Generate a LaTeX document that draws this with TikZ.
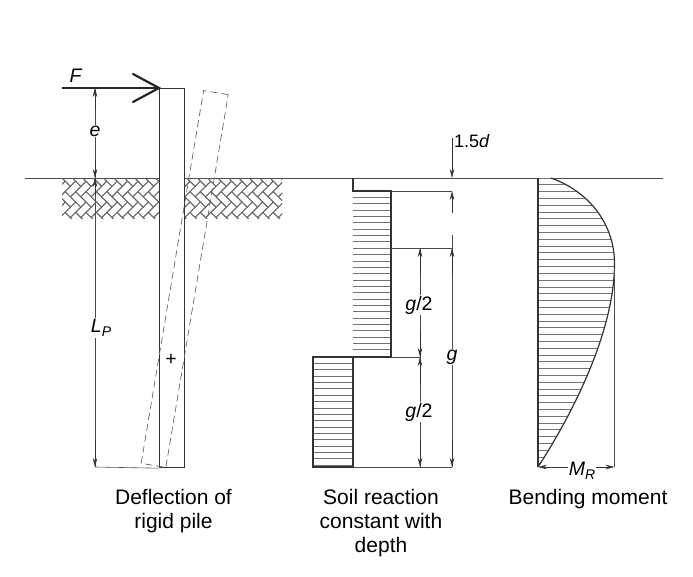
\documentclass[tikz,border=0pt]{standalone}
\usepackage{fontspec}
\setmainfont{Liberation Sans}
\usetikzlibrary{arrows.meta}
\begin{document}
\begin{tikzpicture}[x=1pt,y=-1pt,
  outl/.style={draw=black!80, line width=1.2pt},
  thin/.style={draw=black!70, line width=0.6pt},
  hatch/.style={draw=black!55, line width=0.6pt},
  bricks/.style={draw=black!60, line width=0.8pt},
  dimtip/.style={-{Stealth[length=9pt,width=4.5pt]}, draw=black!80, line width=0.6pt},
  lbl/.style={font=\fontsize{19.5}{23}\selectfont, inner sep=1pt},
  caption/.style={font=\fontsize{21}{24}\selectfont, align=center, inner sep=0pt}]
\useasboundingbox (0,0) rectangle (693,577);
\fill[white] (0,0) rectangle (693,577);

% ground line
\coordinate (gl) at (25,178);
\coordinate (gr) at (663,178);
\draw[thin] (gl) -- (gr);

% soil hatching (herringbone)
\begin{scope}
  \clip (62,178.5) rectangle (282,219);
  \begin{scope}[shift={(60,176)}, x={(5.2pt,-5.2pt)}, y={(5.2pt,5.2pt)}]
    \foreach \m in {0,...,3}{
      \foreach \k in {-9,...,22}{
        \pgfmathsetmacro{\xo}{\k+4*\m}
        \draw[bricks] (\xo,\k) -- ++(2,0) -- ++(0,1) -- ++(-2,0) -- cycle;
        \draw[bricks] (\xo,\k+1) -- ++(1,0) -- ++(0,2) -- ++(-1,0) -- cycle;
      }
    }
  \end{scope}
\end{scope}

% pile
\node[outl, fill=white, minimum width=25pt, minimum height=379pt, inner sep=0pt, anchor=north west] (pile) at (159,88) {};
% deflected pile (dashed)
\node[draw=black!60, dashed, dash pattern=on 7pt off 4pt, line width=0.7pt, minimum width=25pt, minimum height=378pt, inner sep=0pt, rotate=-9.5] (dpile) at (184.7,279) {};
\node[lbl] (plus) at (171,360) {+};

% force F
\coordinate (Fs) at (62,88);
\draw[black!85, line width=2.2pt] (Fs) -- (pile.north west);
\draw[black!85, line width=2.2pt, line cap=round, line join=miter] (133,74) -- (pile.north west) -- (133,102);
\node[lbl] (F) at (76,76) {\textit{F}};

% e and L_P dimensions
\coordinate (et) at (95,88);
\coordinate (eb) at (95,178);
\coordinate (lb) at (95,467);
\draw[thin] (et) -- (lb);
\draw[thin] (lb) -- (pile.south west);
\draw[dimtip] (95,110) -- (et);
\draw[dimtip] (95,160) -- (eb);
\draw[dimtip] (95,196) -- (eb);
\draw[dimtip] (95,440) -- (lb);
\node[lbl, fill=white] (e) at (95,131) {\textit{e}};
\node[lbl, fill=white] (LP) at (101,328) {\textit{L}\raisebox{-0.35ex}{\fontsize{14}{14}\selectfont\textit{P}}};

% soil reaction diagram
\begin{scope}
  \clip (353,191) rectangle (391,357);
  \foreach \y in {191,197.35,...,360} \draw[hatch] (353,\y) -- (391,\y);
\end{scope}
\begin{scope}
  \clip (313,357) rectangle (353,467);
  \foreach \y in {357,363.35,...,470} \draw[hatch] (313,\y) -- (353,\y);
\end{scope}
\draw[outl] (353,178) -- (353,191) -- (391,191) -- (391,357) -- (353,357);
\draw[outl] (353,357) -- (313,357) -- (313,467) -- (353,467) -- (353,357);
\coordinate (r1) at (452,191);
\coordinate (r2) at (452,248);
\coordinate (r3) at (420,357);
\coordinate (r4) at (452,467);
\coordinate (r5) at (420,248);
\coordinate (r6) at (420,467);
\draw[thin] (391,191) -- (r1);
\draw[thin] (391,248) -- (r2);
\draw[thin] (391,357) -- (r3);
\draw[thin] (353,467) -- (r4);
% 1.5d
\draw[dimtip] (452,138) -- (452,178);
\draw[dimtip] (452,213) -- (r1);
\node[font=\fontsize{18}{23}\selectfont, inner sep=1pt, anchor=west] (d15) at (453,141) {1.5\textit{d}};
% g
\draw[thin] (452,235) -- (r4);
\draw[dimtip] (452,275) -- (r2);
\draw[dimtip] (452,440) -- (r4);
\node[lbl, fill=white] (g) at (452,357) {\textit{g}};
% g/2
\draw[thin] (r5) -- (r6);
\draw[dimtip] (420,275) -- (r5);
\draw[dimtip] (420,330) -- (r3);
\draw[dimtip] (420,384) -- (r3);
\draw[dimtip] (420,440) -- (r6);
\node[lbl, fill=white] (g2a) at (419,305) {\textit{g}/2};
\node[lbl, fill=white] (g2b) at (419,412) {\textit{g}/2};

% bending moment diagram
\coordinate (m0) at (551,178);
\coordinate (mmax) at (614.5,265);
\coordinate (mb) at (538,467);
\def\mcurve{(m0) .. controls (590,192) and (615,225) .. (mmax) .. controls (614,330) and (575,410) .. (mb)}
\begin{scope}
  \clip (538,178) -- \mcurve -- cycle;
  \foreach \y in {178,184.8,...,470} \draw[hatch] (538,\y) -- (620,\y);
\end{scope}
\draw[outl] (538,178) -- (mb);
\draw[outl] \mcurve;
\coordinate (mr) at (614.5,467);
\draw[thin] (614.5,268) -- (mr);
\draw[{Stealth[length=9pt,width=4.5pt]}-{Stealth[length=9pt,width=4.5pt]}, draw=black!80, line width=0.6pt] (mb) -- (mr);
\node[lbl, fill=white] (MR) at (582,471) {\textit{M}\raisebox{-0.35ex}{\fontsize{14}{14}\selectfont\textit{R}}};

% captions
\node[caption, anchor=north] (c1) at (173.5,489) {Deflection of\\rigid pile};
\node[caption, anchor=north] (c2) at (381,489) {Soil reaction\\constant with\\depth};
\node[caption, anchor=north] (c3) at (588,489) {Bending moment};
\end{tikzpicture}
\end{document}
